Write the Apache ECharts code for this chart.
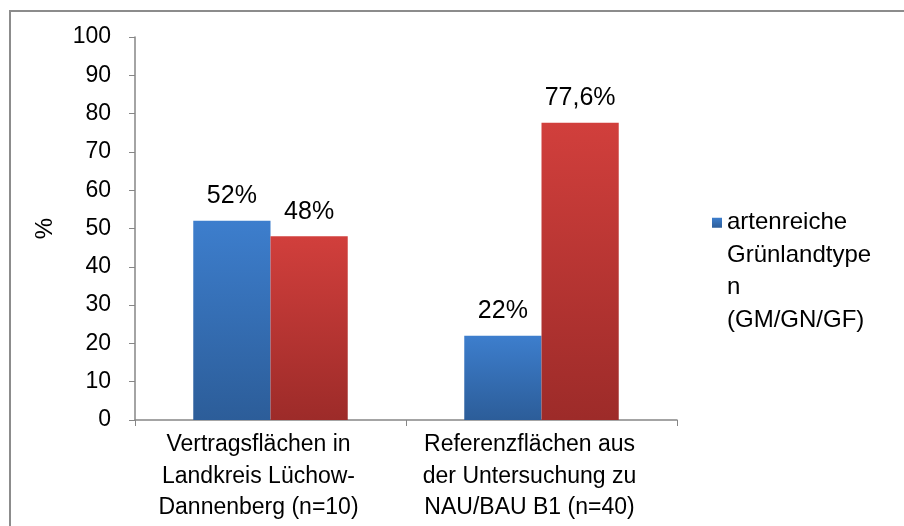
<!DOCTYPE html>
<html>
<head>
<meta charset="utf-8">
<script src="https://cdn.jsdelivr.net/npm/echarts@6/dist/echarts.min.js"></script>
<style>
  html, body { margin: 0; padding: 0; background: #fff; }
  #chart { width: 904px; height: 526px; }
</style>
</head>
<body>
<div id="chart"></div>
<script>
  const categories = [
    'Vertragsflächen in\nLandkreis Lüchow-\nDannenberg (n=10)',
    'Referenzflächen aus\nder Untersuchung zu\nNAU/BAU B1 (n=40)'
  ];
  const blueName = 'artenreiche\nGrünlandtype\nn\n(GM/GN/GF)';
  const blueValues = [52, 22];
  const redValues = [48, 77.6];
  const yTicks = [0, 10, 20, 30, 40, 50, 60, 70, 80, 90, 100];

  const font = 'Liberation Sans, Arial, sans-serif';

  function grad(top, bottom) {
    return new echarts.graphic.LinearGradient(0, 0, 0, 1, [
      { offset: 0, color: top },
      { offset: 1, color: bottom }
    ]);
  }

  const pctLabel = {
    show: true,
    position: 'top',
    distance: 12,
    fontFamily: font,
    fontSize: 25,
    color: '#000',
    formatter(p) {
      return String(p.value).replace('.', ',') + '%';
    }
  };

  const chart = echarts.init(document.getElementById('chart'));
  chart.setOption({
    animation: false,
    graphic: [{
      type: 'rect',
      shape: { x: 10, y: 11, width: 1000, height: 1000 },
      style: { fill: 'none', stroke: '#8c8c8c', lineWidth: 2 }
    }],
    grid: { left: 135, right: 227, top: 37, bottom: 106 },
    legend: {
      data: [blueName],
      orient: 'vertical',
      left: 712,
      top: 109,
      padding: 0,
      itemWidth: 10,
      itemHeight: 10,
      itemGap: 5,
      icon: 'rect',
      // leading blank lines keep the marker level with the first text line
      formatter: name => '\n\n\n' + name,
      textStyle: {
        fontFamily: font,
        fontSize: 24,
        lineHeight: 32.5,
        color: '#000'
      }
    },
    xAxis: {
      type: 'category',
      data: categories,
      axisLine: { lineStyle: { color: '#868686', width: 1.5 } },
      axisTick: { show: true, length: 6, lineStyle: { color: '#868686' } },
      axisLabel: {
        fontFamily: font,
        fontSize: 23,
        lineHeight: 31.5,
        color: '#000',
        margin: 9,
        padding: [0, 24, 0, 0],
        interval: 0
      }
    },
    yAxis: {
      type: 'value',
      min: yTicks[0],
      max: yTicks[yTicks.length - 1],
      interval: 10,
      name: '%',
      nameLocation: 'middle',
      nameRotate: 90,
      nameGap: 78,
      nameMoveOverlap: false,
      nameTextStyle: { fontFamily: font, fontSize: 24, color: '#000' },
      axisLine: { show: true, lineStyle: { color: '#868686', width: 1.5 } },
      axisTick: { show: true, length: 6, lineStyle: { color: '#868686' } },
      splitLine: { show: false },
      axisLabel: {
        fontFamily: font,
        fontSize: 23,
        color: '#000',
        margin: 24
      }
    },
    series: [
      {
        name: blueName,
        type: 'bar',
        data: blueValues,
        barGap: '0%',
        barCategoryGap: '43%',
        itemStyle: { color: grad('#3d7ecd', '#2c5d99') },
        label: pctLabel
      },
      {
        name: 'rot',
        type: 'bar',
        data: redValues,
        itemStyle: { color: grad('#d13f3c', '#9d2b29') },
        label: pctLabel
      }
    ]
  });
</script>
</body>
</html>
